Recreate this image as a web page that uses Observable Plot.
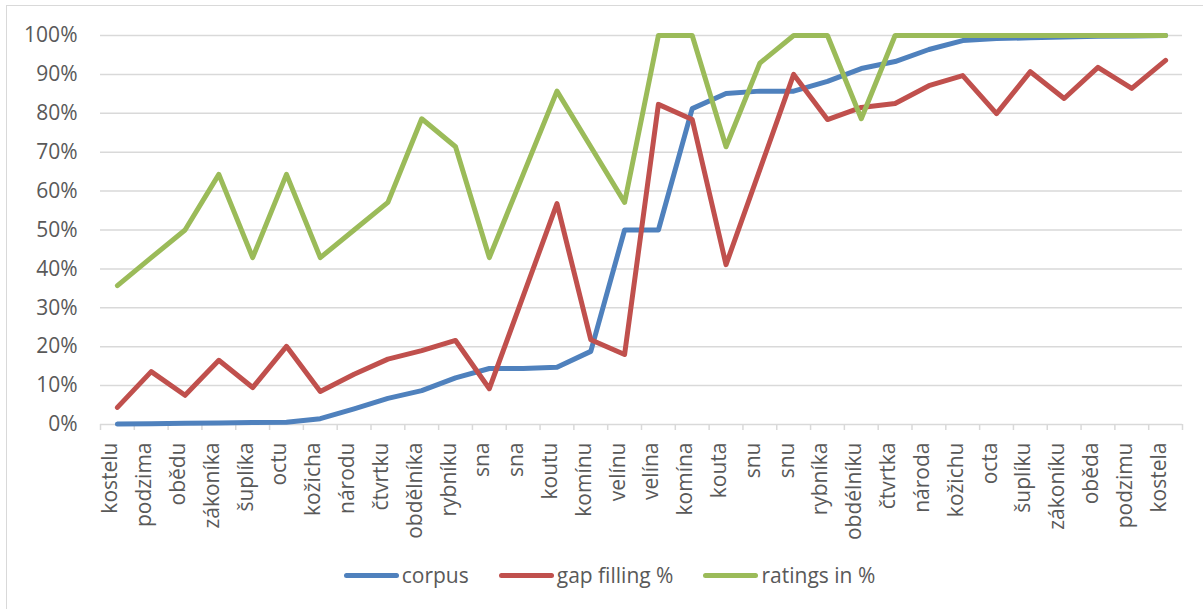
<!DOCTYPE html>
<html>
<head>
<meta charset="utf-8">
<script src="https://cdn.jsdelivr.net/npm/d3@7"></script>
<script src="https://cdn.jsdelivr.net/npm/@observablehq/plot@0.6"></script>
<style>
  html, body { margin: 0; padding: 0; background: #fff; width: 1203px; height: 609px; overflow: hidden; }
  #frame { position: absolute; left: 6px; top: 5px; width: 1300px; height: 700px; border: 1.5px solid #d9d9d9; box-sizing: border-box; }
  #chart { position: absolute; left: 0; top: 0; }
  #legend { position: absolute; left: 0; top: 561px; width: 1203px; display: flex; justify-content: center; align-items: center;
            font-family: "Open Sans", sans-serif; font-size: 21px; color: #595959; padding-left: 16px; box-sizing: border-box; }
  .item { display: flex; align-items: center; margin: 0 15px; }
  .sw { width: 55px; height: 5px; border-radius: 3px; margin-right: 3px; }
</style>
</head>
<body>
<div id="frame"></div>
<div id="chart"></div>
<div id="legend"></div>
<script>
const labels = ["kostelu","podzima","obědu","zákoníka","šuplíka","octu","kožicha","národu","čtvrtku","obdělníka","rybníku","sna","sna","koutu","komínu","velínu","velína","komína","kouta","snu","snu","rybníka","obdélníku","čtvrtka","národa","kožichu","octa","šuplíku","zákoníku","oběda","podzimu","kostela"];
const corpus = [0.1,0.2,0.3,0.4,0.5,0.6,1.5,4.0,6.7,8.7,12.0,14.4,14.4,14.7,18.8,50.0,50.0,81.2,85.1,85.7,85.7,88.2,91.5,93.3,96.4,98.7,99.2,99.4,99.6,99.8,99.9,100];
const gapFilling = [4.4,13.6,7.5,16.5,9.5,20.1,8.5,12.9,16.8,19.0,21.6,9.2,33.0,56.8,21.8,18.0,82.3,78.4,41.1,65.5,90.0,78.4,81.5,82.5,87.1,89.7,79.9,90.7,83.8,91.8,86.4,93.6];
const ratings = [35.7,42.9,50,64.3,42.9,64.3,42.9,50,57.1,78.6,71.4,42.9,64.3,85.7,71.4,57.1,100,100,71.4,92.9,100,100,78.6,100,100,100,100,100,100,100,100,100];
const seriesNames = ["corpus","gap filling %","ratings in %"];
const seriesColors = ["#4f81bd","#c0504d","#9bbb59"];
const yTicks = [0,10,20,30,40,50,60,70,80,90,100];

const idx = labels.map((_, i) => i);
const series = [corpus, gapFilling, ratings];
const boundaries = d3.range(labels.length + 1).map(k => k - 0.5);

const lineMarks = series.map((vals, s) =>
  Plot.line(idx, {x: i => i, y: i => vals[i], stroke: seriesColors[s], strokeWidth: 5,
                  strokeLinecap: "round", strokeLinejoin: "round"}));

const chart = Plot.plot({
  width: 1203,
  height: 540,
  marginLeft: 100,
  marginRight: 21,
  marginTop: 35,
  marginBottom: 116,
  style: {fontFamily: "Open Sans, sans-serif", fontSize: "21px", color: "#595959", background: "transparent"},
  x: {domain: [-0.5, labels.length - 0.5]},
  y: {domain: [0, 100]},
  marks: [
    Plot.ruleY(yTicks, {stroke: "#d9d9d9", strokeWidth: 1.5}),
    Plot.axisX(boundaries, {tickSize: 6, tickFormat: () => "", stroke: "#d9d9d9", strokeWidth: 1.5, label: null}),
    Plot.axisY(yTicks, {tickSize: 0, tickPadding: 23, tickFormat: d => d + "%", fill: "#595959", label: null, fontSize: 21}),
    Plot.text(idx, {x: i => i, text: i => labels[i], frameAnchor: "bottom", rotate: -90, textAnchor: "end",
                    dy: 18, fill: "#595959", fontSize: 21}),
    ...lineMarks
  ]
});
document.getElementById("chart").appendChild(chart);

const legend = document.getElementById("legend");
seriesNames.forEach((n, s) => {
  const it = document.createElement("div");
  it.className = "item";
  it.innerHTML = `<span class="sw" style="background:${seriesColors[s]}"></span><span>${n}</span>`;
  legend.appendChild(it);
});
</script>
</body>
</html>
